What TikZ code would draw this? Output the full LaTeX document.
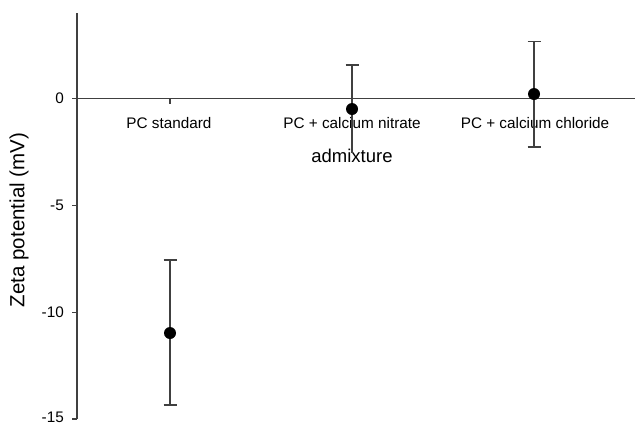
\documentclass[tikz,border=0pt]{standalone}
\usepackage{fontspec}
\setmainfont{Liberation Sans}
\definecolor{axgray}{HTML}{404040}
\begin{document}
\begin{tikzpicture}[x=1bp,y=-1bp,
  axis/.style={draw=axgray,line width=1.2bp},
  errbar/.style={draw=axgray,line width=1.2bp},
  dot/.style={circle,fill=black,inner sep=0pt,minimum size=12bp},
  catlbl/.style={font=\fontsize{15.3bp}{18bp}\selectfont,anchor=base,inner sep=0pt},
  ticklbl/.style={font=\fontsize{15.3bp}{18bp}\selectfont,anchor=east,inner sep=0pt},
  titlelbl/.style={font=\fontsize{18.5bp}{22bp}\selectfont,anchor=base,inner sep=0pt}]
\useasboundingbox (0,0) rectangle (635,424);
% axes
\coordinate (ytop) at (77,13);
\coordinate (ybot) at (77,419);
\coordinate (xleft) at (77,98.5);
\coordinate (xright) at (635,98.5);
\draw[axis] (ytop) -- (ybot);
\draw[axis] (xleft) -- (xright);
% y ticks
\foreach \yy/\lab/\nm/\dy in {98.5/0/t0/0,205.3/-5/t5/0,312.2/-10/t10/0,419/-15/t15/-2}{
  \coordinate (\nm a) at (72,\yy);
  \coordinate (\nm b) at (77,\yy);
  \draw[axis] (\nm a) -- (\nm b);
  \node[ticklbl] (\nm l) at (64,\yy+\dy) {\lab};
}
% x ticks
\foreach \xx/\nm in {170/xa,352/xb,534/xc}{
  \coordinate (\nm a) at (\xx,98.5);
  \coordinate (\nm b) at (\xx,103.5);
  \draw[axis] (\nm a) -- (\nm b);
}
% category labels
\node[catlbl] (c1) at (169,128) {PC standard};
\node[catlbl] (c2) at (352,128) {PC + calcium nitrate};
\node[catlbl] (c3) at (535,128) {PC + calcium chloride};
\node[titlelbl] (xt) at (352,162) {admixture};
\node[font=\fontsize{20.5bp}{24bp}\selectfont,rotate=90,inner sep=0pt] (yt) at (19,220) {Zeta potential (mV)};
% error bars
\coordinate (e1t) at (170,260); \coordinate (e1b) at (170,405);
\coordinate (e2t) at (352,65);  \coordinate (e2b) at (352,153);
\coordinate (e3t) at (534,41.7);\coordinate (e3b) at (534,147);
\draw[errbar] (e1t) -- (e1b);
\draw[errbar] ([xshift=-6.5bp]e1t) -- ([xshift=6.5bp]e1t);
\draw[errbar] ([xshift=-6.5bp]e1b) -- ([xshift=6.5bp]e1b);
\draw[errbar] (e2t) -- (e2b);
\draw[errbar] ([xshift=-6.5bp]e2t) -- ([xshift=6.5bp]e2t);
\draw[errbar] (e3t) -- (e3b);
\draw[errbar] ([xshift=-6.5bp]e3t) -- ([xshift=6.5bp]e3t);
\draw[errbar] ([xshift=-6.5bp]e3b) -- ([xshift=6.5bp]e3b);
% points
\node[dot] (p1) at (170,333) {};
\node[dot] (p2) at (352,109) {};
\node[dot] (p3) at (534,94) {};
\end{tikzpicture}
\end{document}
